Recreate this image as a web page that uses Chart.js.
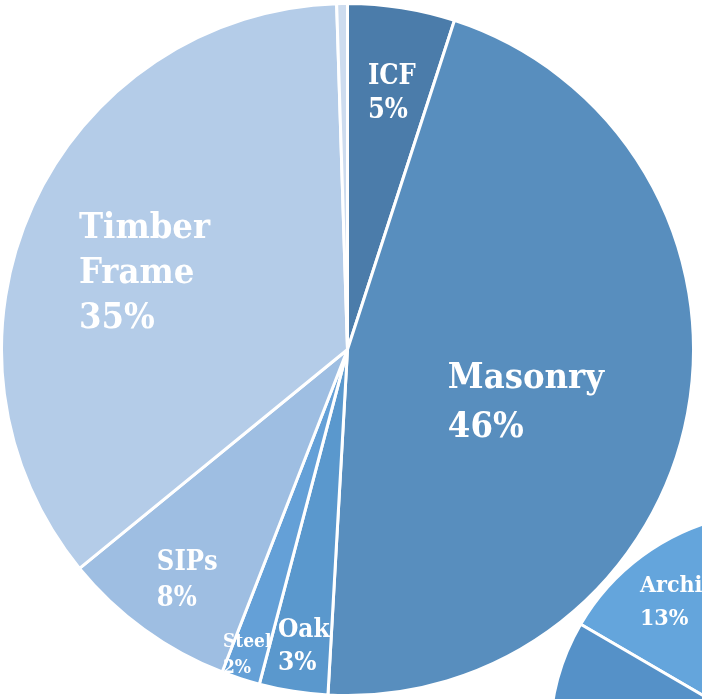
<!DOCTYPE html>
<html><head><meta charset="utf-8">
<script src="https://cdn.jsdelivr.net/npm/chart.js@4.4.1/dist/chart.umd.min.js"></script>
<style>
html,body{margin:0;padding:0;background:#fff;overflow:hidden;width:702px;height:699px;position:relative}
#main{position:absolute;left:0;top:0}
#second{position:absolute;left:546px;top:508px}
</style></head><body>
<canvas id="second" width="460" height="460"></canvas>
<canvas id="main" width="702" height="699"></canvas>
<script>
// Main pie: build method share
const categories = ['ICF', 'Masonry', 'Oak', 'Steel', 'SIPs', 'Timber Frame', 'Other'];
const shares = [5, 45.9, 3.2, 1.8, 8.2, 35.4, 0.5];
const shareLabels = ['5%', '46%', '3%', '2%', '8%', '35%', ''];

// Second (partially visible) pie
const routeCategories = ['Architect', 'Other'];
const routeShares = [13, 87];
const routeShareLabels = ['13%', ''];

const FONT = "'DejaVu Serif Condensed', 'DejaVu Serif', serif";

function linesFor(cats, pcts) {
  return cats.map((c, i) => pcts[i] ? c.split(' ').concat([pcts[i]]) : []);
}

const sliceLabels = {
  id: 'sliceLabels',
  afterDatasetsDraw(chart, args, opts) {
    const ctx = chart.ctx;
    const meta = chart.getDatasetMeta(0);
    meta.data.forEach((arc, i) => {
      const st = opts.styles[i];
      const lines = opts.lines[i];
      if (!st || !lines || !lines.length) return;
      const p = arc.getProps(['x', 'y', 'outerRadius'], true);
      const lx = p.x + st.dx * p.outerRadius;
      const ly = p.y + st.dy * p.outerRadius;
      ctx.save();
      ctx.fillStyle = '#ffffff';
      ctx.font = 'bold ' + st.size + 'px ' + FONT;
      ctx.textAlign = 'left';
      ctx.textBaseline = 'alphabetic';
      lines.forEach((t, k) => ctx.fillText(t, lx, ly + k * st.lh));
      ctx.restore();
    });
  }
};

new Chart(document.getElementById('main'), {
  type: 'pie',
  data: {
    labels: categories,
    datasets: [{
      data: shares,
      backgroundColor: ['#4b7caa', '#588ebe', '#5a98cd', '#64a0d7', '#9ebee2', '#b4cce8', '#cddcef'],
      borderColor: '#ffffff',
      borderWidth: 3
    }]
  },
  options: {
    responsive: false,
    animation: false,
    rotation: 0,
    radius: 346,
    layout: {padding: {left: 0, right: 7, top: 0, bottom: 0}},
    plugins: {
      legend: {display: false},
      tooltip: {enabled: false},
      sliceLabels: {
        lines: linesFor(categories, shareLabels),
        styles: [
          {dx: 0.059, dy: -0.767, size: 27, lh: 34},
          {dx: 0.290, dy: 0.111, size: 36, lh: 49},
          {dx: -0.201, dy: 0.831, size: 26, lh: 33},
          {dx: -0.360, dy: 0.860, size: 19, lh: 26},
          {dx: -0.551, dy: 0.637, size: 27, lh: 36},
          {dx: -0.776, dy: -0.322, size: 36, lh: 45},
          null
        ]
      }
    }
  },
  plugins: [sliceLabels]
});

new Chart(document.getElementById('second'), {
  type: 'pie',
  data: {
    labels: routeCategories,
    datasets: [{
      data: routeShares,
      backgroundColor: ['#64a5dc', '#5591c8'],
      borderColor: '#ffffff',
      borderWidth: 3
    }]
  },
  options: {
    responsive: false,
    animation: false,
    rotation: 300.2,
    radius: 226,
    plugins: {
      legend: {display: false},
      tooltip: {enabled: false},
      sliceLabels: {
        lines: linesFor(routeCategories, routeShareLabels),
        styles: [{dx: -0.602, dy: -0.646, size: 23, lh: 33}, null]
      }
    }
  },
  plugins: [sliceLabels]
});
</script>
</body></html>
